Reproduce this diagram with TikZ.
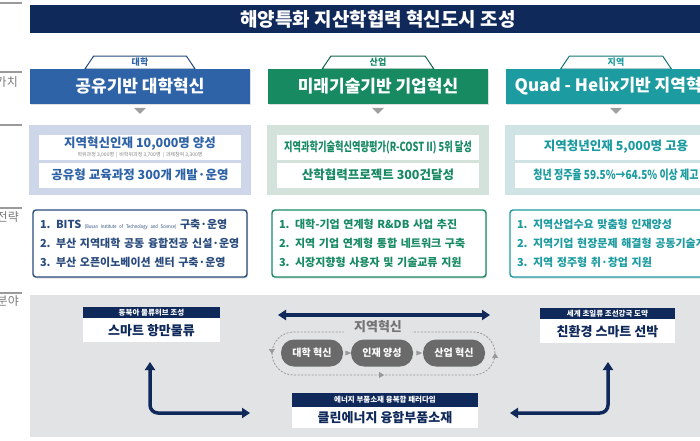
\documentclass[tikz,border=0pt]{standalone}
\usepackage{fontspec}
\setmainfont{Noto Sans CJK KR}
\usepackage{graphicx}
\usetikzlibrary{shapes.geometric, arrows.meta, positioning, decorations.markings, shadows}

\definecolor{navy}{HTML}{10295B}
\definecolor{ublue}{HTML}{2F63A7}
\definecolor{udark}{HTML}{2A4B7D}
\definecolor{igreen}{HTML}{178A62}
\definecolor{rteal}{HTML}{1C9BA0}
\definecolor{ubluep}{HTML}{CED7EA}
\definecolor{igreenp}{HTML}{D3E3DB}
\definecolor{rtealp}{HTML}{D0E4E6}
\definecolor{bgc}{HTML}{E2E3E5}
\definecolor{pillc}{HTML}{6A6A6A}
\definecolor{rulec}{HTML}{9A9A9A}

\begin{document}
\begin{tikzpicture}[x=1pt, y=-1pt,
  title/.style={fill=navy, minimum width=696pt, minimum height=28pt, inner sep=0pt, text=white, font=\fontsize{19}{22}\selectfont\bfseries},
  sidetxt/.style={anchor=north east, inner sep=0pt, text=rulec!80!black, font=\fontsize{12}{14}\selectfont},
  rule/.style={draw=rulec, line width=1.2pt},
  head/.style={fill=#1, minimum width=220pt, minimum height=35pt, inner sep=0pt, text=white, font=\fontsize{17}{20}\selectfont\bfseries, drop shadow={opacity=0.25, shadow xshift=1pt, shadow yshift=-1.5pt}},
  tab/.style={draw=#1!75!black, fill=white, line width=1pt, trapezium, trapezium angle=56, minimum width=80pt, minimum height=13pt, inner xsep=22pt, inner ysep=0pt, text=#1, font=\fontsize{9}{10}\selectfont\bfseries},
  dtri/.style={isosceles triangle, isosceles triangle stretches, shape border rotate=-90, fill=gray!75, minimum width=12pt, minimum height=6pt, inner sep=0pt},
  panel/.style={fill=#1, minimum width=222pt, minimum height=70pt, inner sep=0pt},
  goal/.style={fill=white, minimum width=202pt, minimum height=25pt, inner sep=0pt, align=center, text=#1, font=\fontsize{12.5}{13}\selectfont\bfseries},
  plan/.style={draw=#1, fill=white, line width=1.4pt, rounded corners=3pt, minimum height=67pt, text width=200pt, inner xsep=7pt, inner ysep=0pt, align=left, text=#1, font=\fontsize{11}{19}\selectfont\bfseries, drop shadow={opacity=0.25, shadow xshift=1pt, shadow yshift=-1.5pt}},
  tag/.style={fill=navy, minimum height=11pt, inner sep=0pt, text=white, font=\fontsize{7.5}{8}\selectfont\bfseries},
  card/.style={fill=white, minimum height=24pt, inner sep=0pt, text=navy, font=\fontsize{13}{15}\selectfont\bfseries},
  pill/.style={fill=pillc, rounded corners=13pt, minimum width=62pt, minimum height=27pt, inner sep=0pt, text=white, font=\fontsize{10}{12}\selectfont\bfseries},
  rtri/.style={isosceles triangle, fill=gray!80, minimum size=5pt, inner sep=0pt},
  cyc/.style={draw=gray!80, line width=0.8pt, dash pattern=on 2pt off 1.5pt, postaction={decorate}, decoration={markings, mark=at position 0.25 with {\arrow{Triangle[length=5pt,width=6pt]}}, mark=at position 0.5 with {\arrow{Triangle[length=5pt,width=6pt]}}, mark=at position 0.75 with {\arrow{Triangle[length=5pt,width=6pt]}}}},
  dblarr/.style={{Triangle[length=8pt,width=10pt]}-{Triangle[length=8pt,width=10pt]}, line width=3.5pt, draw=navy}
]
\useasboundingbox (0,0) rectangle (700,440);
\clip (0,0) rectangle (700,440);

\node[title] (ttl) at (378,19) {해양특화 지산학협력 혁신도시 조성};

\draw[rule] (0,3) -- (22,3);
\draw[rule] (0,72) -- (22,72);
\node[sidetxt] (s1) at (18,76) {가치};
\draw[rule] (0,125) -- (22,125);
\draw[rule] (0,208) -- (22,208);
\node[sidetxt] (s2) at (19,211) {전략};
\draw[rule] (0,293) -- (22,293);
\node[sidetxt] (s3) at (19,295) {분야};

\node[tab=ublue] (t1) at (140,62.5) {대학};
\node[tab=igreen] (t2) at (378,62.5) {산업};
\node[tab=rteal] (t3) at (616,62.5) {지역};

\node[head=ublue] (h1) at (140,86) {공유기반 대학혁신};
\node[head=igreen] (h2) at (378,86) {미래기술기반 기업혁신};
\node[head=rteal] (h3) at (616,86) {Quad - Helix기반 지역혁신};

\node[dtri, below=4pt of h1] (a1) {};
\node[dtri, below=4pt of h2] (a2) {};
\node[dtri, below=4pt of h3] (a3) {};

\node[panel=ubluep] (g1) at (140,160) {};
\node[goal=ublue] (g1a) at (140,147) {지역혁신인재 10,000명 양성\\[-4pt]{\fontsize{5}{6}\selectfont\mdseries\color{gray} 학위과정 3,000명 \,|\, 비학위과정 3,700명 \,|\, 과제참여 3,300명}};
\node[goal=ublue] (g1b) at (140,175) {공유형 교육과정 300개 개발·운영};

\node[panel=igreenp] (g2) at (378,160) {};
\node[goal=igreen] (g2a) at (378,147) {\scalebox{0.74}[1]{지역과학기술혁신역량평가(R-COST II) 5위 달성}};
\node[goal=igreen] (g2b) at (378,175) {산학협력프로젝트 300건달성};

\node[panel=rtealp] (g3) at (616,160) {};
\node[goal=rteal] (g3a) at (616,147) {지역청년인재 5,000명 고용};
\node[goal=rteal] (g3b) at (616,175) {\scalebox{0.8}[1]{청년 정주율 59.5\%→64.5\% 이상 제고}};

\node[plan=udark] (p1) at (140,243.5) {\mbox{1. BITS {\fontsize{5}{6}\selectfont\mdseries\scalebox{0.8}[1]{(Busan Institute of Technology and Science)}} 구축·운영}\\2. 부산 지역대학 공동 융합전공 신설·운영\\3. 부산 오픈이노베이션 센터 구축·운영};
\node[plan=igreen] (p2) at (379,243.5) {1. 대학-기업 연계형 R\&DB 사업 추진\\2. 지역 기업 연계형 통합 네트워크 구축\\3. 시장지향형 사용자 및 기술교류 지원};
\node[plan=rteal] (p3) at (617,243.5) {1. 지역산업수요 맞춤형 인재양성\\\mbox{2. 지역기업 현장문제 해결형 공동기술개발}\\3. 지역 정주형 취·창업 지원};

\node[fill=bgc, minimum width=696pt, minimum height=142pt, inner sep=0pt] (bg) at (378,366) {};

\node[tag, minimum width=137pt] (harbortag) at (151.5,312.5) {동북아 물류허브 조성};
\node[card, minimum width=137pt, below=0pt of harbortag] (harbor) {스마트 항만물류};
\node[tag, minimum width=135pt] (shiptag) at (607.5,313.5) {세계 초일류 조선강국 도약};
\node[card, minimum width=135pt, below=0pt of shiptag] (ship) {친환경 스마트 선박};
\node[tag, minimum width=186pt, minimum height=14pt] (energytag) at (385,400) {에너지 부품소재 융복합 패러다임};
\node[card, minimum width=186pt, minimum height=21pt, below=0pt of energytag] (energy) {클린에너지 융합부품소재};

\draw[cyc] (383,332) -- (293.5,332) arc[start angle=90, end angle=270, radius=21.5pt] -- (473.5,375) arc[start angle=-90, end angle=90, radius=21.5pt] -- cycle;
\node[fill=bgc, inner xsep=10pt, inner ysep=2pt, text=gray!90!black, font=\fontsize{13}{15}\selectfont\bfseries] (ring) at (378,327) {지역혁신};

\node[pill] (u1) at (312,353) {대학 혁신};
\node[pill] (u2) at (382,353) {인재 양성};
\node[pill] (u3) at (454,353) {산업 혁신};
\path (u1) -- node[rtri] (m1) {} (u2);
\path (u2) -- node[rtri] (m2) {} (u3);

\coordinate (ta) at (278,315);
\coordinate (tb) at (490,315);
\draw[dblarr] (ta) -- (tb);
\coordinate (la) at (150,362);
\coordinate (lb) at (250,413);
\draw[dblarr, rounded corners=8pt] (la) |- (lb);
\coordinate (ra) at (510,413);
\coordinate (rb) at (608,362);
\draw[dblarr, rounded corners=8pt] (ra) -| (rb);

\end{tikzpicture}
\end{document}
